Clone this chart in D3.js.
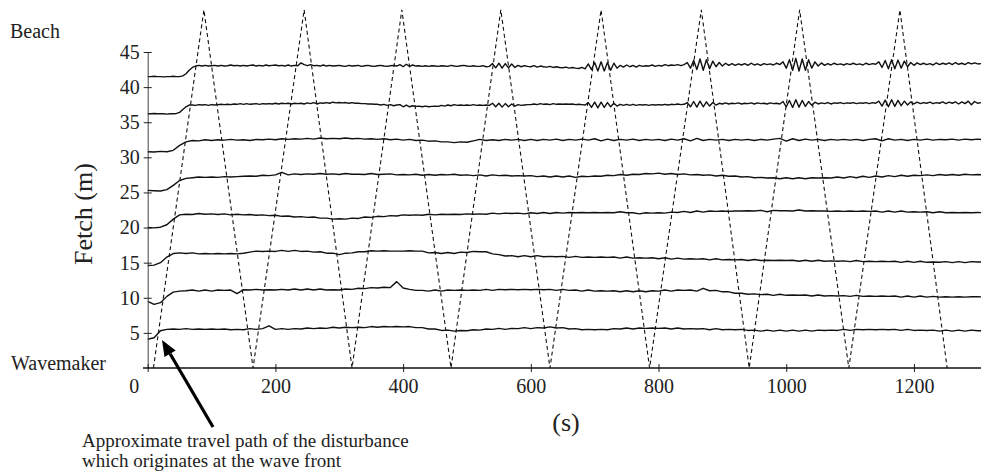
<!DOCTYPE html>
<html><head><meta charset="utf-8">
<script src="https://cdn.jsdelivr.net/npm/d3@7/dist/d3.min.js"></script>
<style>
body{margin:0;background:#fff}
svg{display:block}
text{font-family:"Liberation Serif","Times New Roman",Times,serif;fill:#222}
</style>
</head><body>
<svg id="chart" width="981" height="475"></svg>
<script>
// ---------------- DATA ----------------
const xTickValues = [0, 200, 400, 600, 800, 1000, 1200];
const yTickValues = [5, 10, 15, 20, 25, 30, 35, 40, 45];

// travel path of the disturbance (time s, fetch m)
const pathTimes = [9, 88, 165, 245, 320, 398, 475, 553, 630, 710, 786, 867, 942, 1021, 1098, 1178, 1252];
const pathFetch = [0, 51, 0, 51, 0, 51, 0, 51, 0, 51, 0, 51, 0, 51, 0, 51, 0];

// sampling times (s)
const timesFine = [
0,5,10,15,20,25,30,35,40,45,
50,55,60,65,70,75,80,85,90,95,
100,105,110,115,120,125,130,135,140,145,
150,155,160,165,170,175,180,185,190,195,
200,205,210,215,220,225,230,235,240,245,
250,255,260,265,270,275,280,285,290,295,
300,305,310,315,320,325,330,335,340,345,
350,355,360,365,370,375,380,385,390,395,
400,405,410,415,420,425,430,435,440,445,
450,455,460,465,470,475,480,485,490,495,
500,505,510,515,520,525,530,535,540,545,
550,555,560,565,570,575,580,585,590,595,
600,605,610,615,620,625,630,635,640,645,
650,655,660,665,670,675,680,685,690,695,
700,705,710,715,720,725,730,735,740,745,
750,755,760,765,770,775,780,785,790,795,
800,805,810,815,820,825,830,835,840,845,
850,855,860,865,870,875,880,885,890,895,
900,905,910,915,920,925,930,935,940,945,
950,955,960,965,970,975,980,985,990,995,
1000,1005,1010,1015,1020,1025,1030,1035,1040,1045,
1050,1055,1060,1065,1070,1075,1080,1085,1090,1095,
1100,1105,1110,1115,1120,1125,1130,1135,1140,1145,
1150,1155,1160,1165,1170,1175,1180,1185,1190,1195,
1200,1205,1210,1215,1220,1225,1230,1235,1240,1245,
1250,1255,1260,1265,1270,1275,1280,1285,1290,1295,
1300,1305];

const timesCoarse = [
0,10,20,30,40,50,60,70,80,90,
100,110,120,130,140,150,160,170,180,190,
200,210,220,230,240,250,260,270,280,290,
300,310,320,330,340,350,360,370,380,390,
400,410,420,430,440,450,460,470,480,490,
500,510,520,530,540,550,560,570,580,590,
600,610,620,630,640,650,660,670,680,690,
700,710,720,730,740,750,760,770,780,790,
800,810,820,830,840,850,860,870,880,890,
900,910,920,930,940,950,960,970,980,990,
1000,1010,1020,1030,1040,1050,1060,1070,1080,1090,
1100,1110,1120,1130,1140,1150,1160,1170,1180,1190,
1200,1210,1220,1230,1240,1250,1260,1270,1280,1290,
1300,1310];

// gauge traces (fetch position + surface displacement)
const gauge43 = [
41.5,41.5,41.55,41.5,41.5,41.45,41.5,41.5,41.55,41.5,
41.5,41.6,41.9,42.4,42.8,43.0,43.1,43.0,43.1,43.0,
43.05,43.1,43.0,43.1,43.0,43.05,43.15,43.05,43.1,43.0,
43.1,43.0,43.1,43.15,43.0,43.1,43.0,43.15,43.05,43.1,
43.15,43.05,43.1,43.0,43.15,43.0,43.1,43.05,43.45,43.2,
43.05,43.2,43.05,43.1,43.0,43.15,43.0,43.1,43.0,43.05,
43.1,43.0,42.95,43.1,43.0,43.05,43.1,42.95,43.05,43.1,
43.0,42.95,43.05,43.1,43.0,42.95,43.05,43.1,43.0,43.2,
42.9,43.25,42.95,43.15,43.0,43.05,42.95,43.05,42.95,43.05,
43.0,42.95,43.05,43.0,42.95,43.1,43.0,42.95,43.05,43.1,
43.0,42.95,43.05,42.95,42.95,43.05,42.9,42.95,43.35,42.75,
43.4,42.7,43.35,42.75,43.3,42.8,43.1,42.9,43.05,42.95,
42.9,43.05,42.85,43.0,42.9,42.85,42.95,42.8,42.9,42.8,
42.75,42.85,42.7,42.8,42.7,42.65,42.8,42.6,43.3,42.5,
43.5,42.3,43.6,42.3,43.5,42.4,43.4,42.7,43.1,42.85,
43.15,42.9,43.1,42.85,43.1,42.95,43.05,43.0,43.15,42.95,
43.1,43.0,43.2,43.05,43.15,43.1,43.2,43.05,43.2,43.5,
42.7,43.8,42.5,44.0,42.4,43.9,42.6,43.7,42.9,43.5,
43.0,43.4,43.1,43.35,43.1,43.3,43.15,43.35,43.1,43.4,
43.15,43.3,43.1,43.35,43.2,43.3,43.15,43.4,43.2,43.6,
42.7,43.9,42.4,44.1,42.3,44.0,42.4,43.9,42.7,43.6,
43.0,43.45,43.1,43.35,43.15,43.4,43.2,43.3,43.15,43.35,
43.2,43.4,43.2,43.3,43.15,43.4,43.2,43.35,43.25,43.6,
42.8,43.8,42.6,43.9,42.6,43.85,42.7,43.7,42.9,43.5,
43.1,43.45,43.2,43.4,43.2,43.35,43.15,43.45,43.2,43.4,
43.25,43.45,43.2,43.5,43.25,43.4,43.2,43.5,43.3,43.45,
43.3,43.35];

const gauge37 = [
36.2,36.2,36.25,36.2,36.2,36.2,36.15,36.2,36.2,36.25,
36.4,36.8,37.2,37.45,37.45,37.4,37.5,37.45,37.5,37.4,
37.5,37.45,37.5,37.55,37.5,37.55,37.5,37.6,37.55,37.65,
37.55,37.65,37.55,37.6,37.65,37.55,37.65,37.6,37.65,37.6,
37.7,37.6,37.7,37.65,37.7,37.6,37.7,37.65,37.7,37.6,
37.75,37.65,37.8,37.6,37.75,37.7,37.8,37.7,37.85,37.75,
37.8,37.75,37.8,37.7,37.8,37.7,37.7,37.65,37.65,37.6,
37.6,37.55,37.55,37.45,37.55,37.4,37.5,37.35,37.45,37.5,
37.2,37.45,37.2,37.35,37.25,37.3,37.2,37.3,37.2,37.25,
37.3,37.25,37.4,37.3,37.45,37.35,37.5,37.4,37.45,37.4,
37.45,37.4,37.5,37.4,37.45,37.4,37.45,37.4,37.7,37.2,
37.7,37.15,37.65,37.2,37.6,37.3,37.5,37.4,37.45,37.5,
37.5,37.6,37.5,37.65,37.55,37.6,37.5,37.65,37.55,37.6,
37.55,37.6,37.55,37.6,37.5,37.55,37.5,37.45,37.8,37.1,
37.85,37.05,37.85,37.1,37.8,37.2,37.7,37.3,37.55,37.4,
37.55,37.4,37.55,37.4,37.5,37.45,37.5,37.4,37.5,37.45,
37.5,37.45,37.55,37.45,37.55,37.5,37.6,37.5,37.55,37.8,
37.2,37.95,37.15,38.0,37.2,37.9,37.3,37.8,37.45,37.7,
37.6,37.75,37.6,37.7,37.65,37.75,37.6,37.7,37.65,37.75,
37.6,37.75,37.65,37.7,37.6,37.75,37.65,37.7,37.6,37.95,
37.2,38.1,37.1,38.2,37.15,38.1,37.25,37.95,37.4,37.85,
37.6,37.75,37.65,37.8,37.6,37.75,37.7,37.8,37.65,37.75,
37.7,37.8,37.65,37.75,37.7,37.8,37.65,37.8,37.7,38.0,
37.3,38.15,37.2,38.2,37.25,38.1,37.35,38.0,37.45,37.9,
37.6,37.85,37.65,37.8,37.7,37.85,37.65,37.8,37.7,37.9,
37.65,37.85,37.7,37.9,37.6,37.9,37.65,38.0,37.5,37.95,
37.7,37.8];

const gauge32 = [
30.8,30.75,30.85,30.8,31.0,31.7,32.2,32.4,32.35,32.5,
32.4,32.5,32.45,32.55,32.45,32.5,32.4,32.55,32.5,32.6,
32.5,32.65,32.55,32.65,32.6,32.7,32.6,32.75,32.65,32.7,
32.65,32.75,32.65,32.7,32.6,32.65,32.55,32.65,32.5,32.6,
32.45,32.55,32.4,32.45,32.3,32.35,32.2,32.2,32.1,32.2,
32.15,32.35,32.55,32.4,32.5,32.4,32.55,32.45,32.55,32.4,
32.55,32.4,32.55,32.45,32.6,32.4,32.55,32.45,32.6,32.45,
32.65,32.35,32.6,32.4,32.55,32.45,32.6,32.4,32.55,32.45,
32.55,32.4,32.6,32.45,32.65,32.35,32.7,32.4,32.55,32.45,
32.55,32.4,32.55,32.45,32.55,32.4,32.55,32.45,32.6,32.7,
32.3,32.65,32.4,32.6,32.45,32.55,32.4,32.55,32.45,32.55,
32.45,32.55,32.4,32.55,32.65,32.35,32.65,32.45,32.55,32.4,
32.55,32.45,32.6,32.45,32.55,32.5,32.6,32.45,32.6,32.5,
32.6,32.5];

const gauge27 = [
25.3,25.25,25.2,25.4,26.0,26.7,27.0,27.1,27.2,27.15,
27.2,27.15,27.25,27.2,27.25,27.3,27.35,27.3,27.45,27.4,
27.5,27.85,27.5,27.65,27.55,27.65,27.6,27.7,27.6,27.65,
27.55,27.7,27.6,27.6,27.55,27.7,27.55,27.6,27.65,27.5,
27.55,27.5,27.6,27.45,27.55,27.45,27.55,27.5,27.6,27.45,
27.5,27.4,27.5,27.35,27.5,27.4,27.45,27.35,27.4,27.35,
27.4,27.25,27.35,27.2,27.35,27.2,27.35,27.15,27.3,27.25,
27.35,27.3,27.45,27.4,27.55,27.45,27.6,27.55,27.7,27.65,
27.75,27.6,27.7,27.55,27.65,27.5,27.55,27.45,27.5,27.35,
27.45,27.3,27.35,27.2,27.25,27.1,27.15,27.05,27.1,26.95,
27.1,26.95,27.1,26.95,27.1,27.05,27.1,27.05,27.2,27.05,
27.25,27.1,27.3,27.15,27.35,27.2,27.4,27.25,27.45,27.3,
27.45,27.4,27.5,27.4,27.55,27.45,27.55,27.45,27.6,27.5,
27.55,27.5];

const gauge22 = [
20.0,19.95,20.05,20.4,21.2,21.8,21.9,21.85,22.0,21.9,
21.95,21.85,21.95,21.8,21.9,21.8,21.85,21.75,21.8,21.7,
21.75,21.6,21.65,21.5,21.55,21.45,21.5,21.35,21.35,21.2,
21.25,21.2,21.35,21.3,21.5,21.45,21.6,21.55,21.7,21.65,
21.8,21.75,21.8,21.75,21.9,21.8,21.9,21.85,21.9,21.85,
21.95,21.9,21.95,21.9,22.05,21.95,22.05,22.0,22.05,21.95,
22.1,22.0,22.15,22.0,22.15,22.05,22.15,22.1,22.15,22.1,
22.15,22.1,22.15,22.1,22.25,22.1,22.1,21.95,22.1,22.05,
22.1,22.05,22.2,22.15,22.3,22.15,22.35,22.2,22.35,22.3,
22.35,22.3,22.35,22.35,22.4,22.35,22.45,22.25,22.45,22.4,
22.4,22.35,22.5,22.35,22.4,22.35,22.35,22.3,22.35,22.3,
22.35,22.3,22.35,22.3,22.35,22.2,22.35,22.2,22.35,22.2,
22.25,22.2,22.25,22.1,22.25,22.1,22.15,22.1,22.15,22.1,
22.15,22.1];

const gauge16 = [
14.6,14.65,15.0,15.8,16.3,16.4,16.3,16.4,16.25,16.3,
16.25,16.3,16.25,16.3,16.25,16.35,16.5,16.65,16.6,16.65,
16.6,16.75,16.6,16.75,16.6,16.65,16.5,16.55,16.35,16.35,
16.15,16.35,16.4,16.55,16.55,16.7,16.65,16.7,16.65,16.65,
16.65,16.7,16.65,16.65,16.4,16.45,16.3,16.45,16.3,16.5,
16.45,16.6,16.55,16.55,16.25,16.15,15.95,16.0,15.85,16.0,
15.85,16.0,15.85,15.9,15.85,15.9,15.75,15.9,15.75,15.8,
15.75,15.8,15.75,15.8,15.65,15.8,15.65,15.7,15.65,15.7,
15.55,15.7,15.5,15.65,15.5,15.55,15.5,15.55,15.4,15.55,
15.4,15.45,15.4,15.45,15.3,15.45,15.3,15.35,15.3,15.35,
15.3,15.35,15.2,15.35,15.2,15.35,15.2,15.25,15.2,15.25,
15.15,15.3,15.15,15.2,15.15,15.2,15.15,15.2,15.05,15.2,
15.05,15.2,15.05,15.1,15.05,15.15,15.0,15.15,15.0,15.15,
15.1,15.1];

const gauge11 = [
9.5,9.05,9.3,10.2,10.8,10.95,11.0,11.1,10.95,11.1,
10.95,11.1,11.05,11.1,10.6,11.15,11.1,11.2,11.1,11.15,
11.1,11.2,11.1,11.25,11.1,11.25,11.1,11.25,11.1,11.15,
11.1,11.25,11.2,11.35,11.3,11.45,11.4,11.5,11.45,12.3,
11.4,11.2,11.05,11.05,10.95,11.1,10.95,11.1,11.05,11.1,
11.05,11.1,11.05,11.2,11.05,11.2,11.15,11.2,11.15,11.2,
11.15,11.2,11.15,11.2,11.05,11.2,11.05,11.1,10.95,11.1,
10.95,11.0,10.95,11.0,10.85,11.0,10.85,11.0,10.85,11.0,
10.95,11.1,10.95,11.1,11.05,11.1,10.95,11.35,11.0,11.05,
10.85,10.85,10.65,10.65,10.5,10.55,10.45,10.5,10.35,10.5,
10.35,10.4,10.35,10.4,10.25,10.4,10.25,10.3,10.25,10.3,
10.2,10.35,10.2,10.25,10.2,10.25,10.2,10.25,10.1,10.25,
10.1,10.25,10.1,10.2,10.1,10.15,10.1,10.15,10.1,10.15,
10.15,10.1];

const gauge5 = [
4.1,4.3,5.3,5.5,5.55,5.5,5.6,5.5,5.55,5.5,
5.55,5.5,5.55,5.45,5.5,5.45,5.6,5.5,5.6,6.0,
5.5,5.6,5.5,5.6,5.55,5.7,5.6,5.7,5.65,5.8,
5.7,5.8,5.75,5.8,5.75,5.9,5.8,5.9,5.85,5.9,
5.85,5.9,5.75,5.75,5.55,5.55,5.35,5.4,5.25,5.35,
5.3,5.45,5.4,5.55,5.5,5.65,5.5,5.65,5.6,5.75,
5.6,5.75,5.7,5.85,5.7,5.75,5.55,5.6,5.45,5.5,
5.45,5.5,5.45,5.6,5.55,5.7,5.55,5.7,5.65,5.7,
5.65,5.7,5.55,5.7,5.55,5.6,5.55,5.6,5.45,5.6,
5.45,5.5,5.45,5.5,5.35,5.4,5.25,5.4,5.25,5.4,
5.25,5.4,5.25,5.4,5.25,5.4,5.35,5.4,5.35,5.5,
5.35,5.5,5.45,5.5,5.45,5.5,5.45,5.5,5.35,5.5,
5.35,5.4,5.35,5.4,5.25,5.4,5.25,5.4,5.25,5.4,
5.3,5.3];

// ---------------- DRAW ----------------
const svg = d3.select("#chart");
const x = d3.scaleLinear().domain([0, 1305]).range([147.7, 981]);
const y = d3.scaleLinear().domain([0, 45]).range([368, 52]);

svg.append("defs").append("clipPath").attr("id", "plotclip")
  .append("rect").attr("x", 147).attr("y", 0).attr("width", 834).attr("height", 369);

const plot = svg.append("g").attr("clip-path", "url(#plotclip)");

// travel path (dashed zigzag)
const pathPts = pathTimes.map((t, i) => [t, pathFetch[i]]);
const line = d3.line().x(d => x(d[0])).y(d => y(d[1]));
plot.append("path").datum(pathPts)
  .attr("d", line).attr("fill", "none")
  .attr("stroke", "#111").attr("stroke-width", 1.1)
  .attr("stroke-dasharray", "4,3");

// gauge traces
const traces = [
  [timesFine, gauge43], [timesFine, gauge37],
  [timesCoarse, gauge32], [timesCoarse, gauge27], [timesCoarse, gauge22],
  [timesCoarse, gauge16], [timesCoarse, gauge11], [timesCoarse, gauge5]
];
traces.forEach(([ts, vs]) => {
  plot.append("path").datum(ts.map((t, i) => [t, vs[i]]))
    .attr("d", line).attr("fill", "none")
    .attr("stroke", "#111").attr("stroke-width", 1.4)
    .attr("stroke-linejoin", "round");
});

// y axis
const yAxis = svg.append("g").attr("transform", `translate(${x(0)},0)`)
  .call(d3.axisLeft(y).tickValues(yTickValues).tickFormat(d3.format("d"))
    .tickSizeInner(4).tickSizeOuter(0).tickPadding(4));
yAxis.select(".domain").attr("stroke", "#444").attr("stroke-width", 1);
yAxis.selectAll(".tick line").attr("x1", 4).attr("x2", -4).attr("stroke", "#222");
yAxis.selectAll(".tick text").style("font-size", "20px")
  .style("font-family", '"Liberation Serif","Times New Roman",serif').attr("fill", "#222");

// x axis
const xAxis = svg.append("g").attr("transform", `translate(0,${y(0)})`)
  .call(d3.axisBottom(x).tickValues(xTickValues).tickFormat(d3.format("d"))
    .tickSizeInner(4).tickSizeOuter(0).tickPadding(7));
xAxis.select(".domain").remove();
xAxis.append("line").attr("x1", 143).attr("x2", 981).attr("y1", 0).attr("y2", 0)
  .attr("stroke", "#111").attr("stroke-width", 1.6);
xAxis.selectAll(".tick line").attr("y1", -4).attr("y2", 4).attr("stroke", "#222");
xAxis.selectAll(".tick text").style("font-size", "20px")
  .style("font-family", '"Liberation Serif","Times New Roman",serif').attr("fill", "#222")
  .attr("dx", d => d === 0 ? -14 : 0);

// axis titles and side labels
svg.append("text").attr("transform", "translate(92,214) rotate(-90)")
  .attr("text-anchor", "middle").style("font-size", "26px").text("Fetch (m)");
svg.append("text").attr("x", 566).attr("y", 431)
  .attr("text-anchor", "middle").style("font-size", "26px").text("(s)");
svg.append("text").attr("x", 10).attr("y", 38).style("font-size", "20px").text("Beach");
svg.append("text").attr("x", 11).attr("y", 370).style("font-size", "20px").text("Wavemaker");

// annotation arrow
const tip = [x(22.4), y(4.0)], tail = [213, 427];
const ang = Math.atan2(tip[1] - tail[1], tip[0] - tail[0]);
const headLen = 16, headW = 6.5;
const base = [tip[0] - headLen * Math.cos(ang), tip[1] - headLen * Math.sin(ang)];
svg.append("line").attr("x1", tail[0]).attr("y1", tail[1])
  .attr("x2", base[0]).attr("y2", base[1])
  .attr("stroke", "#000").attr("stroke-width", 3.2);
svg.append("polygon").attr("points", [
  tip,
  [base[0] + headW * Math.sin(ang), base[1] - headW * Math.cos(ang)],
  [base[0] - headW * Math.sin(ang), base[1] + headW * Math.cos(ang)]
].map(p => p.join(",")).join(" ")).attr("fill", "#000");

const ann = svg.append("text").attr("x", 82).style("font-size", "19px");
ann.append("tspan").attr("x", 82).attr("y", 446.5).text("Approximate travel path of the disturbance");
ann.append("tspan").attr("x", 82).attr("y", 467).text("which originates at the wave front");
</script>
</body></html>
